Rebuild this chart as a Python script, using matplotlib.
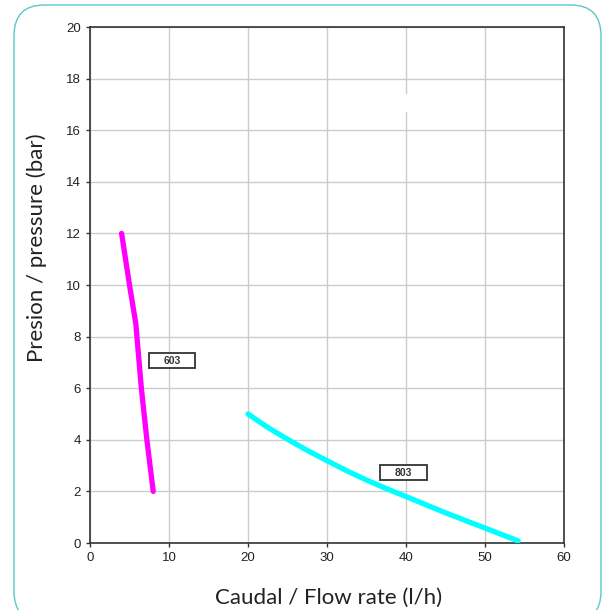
import matplotlib
matplotlib.use("Agg")
import matplotlib.pyplot as plt
from matplotlib.patches import FancyBboxPatch, Rectangle

# pump curves
flow_603 = [4.0, 5.0, 5.8, 6.5, 7.2, 8.0]
pres_603 = [12.0, 10.0, 8.5, 6.0, 4.0, 2.0]

flow_803 = [20.0, 22.5, 25.0, 27.5, 30.0, 32.5, 35.0, 37.5, 40.0, 45.0, 50.0, 54.2]
pres_803 = [5.0, 4.48, 4.02, 3.59, 3.19, 2.80, 2.44, 2.11, 1.80, 1.17, 0.58, 0.08]

labels = ["603", "803"]
label_pos = [(10.4, 7.06), (39.7, 2.73)]

fig = plt.figure(figsize=(6.04, 6.10), dpi=100)

# rounded teal frame round the whole chart
frame = FancyBboxPatch((14 / 604, -12 / 610), 587 / 604, 617 / 610,
                       boxstyle="round,pad=0,rounding_size=0.05",
                       transform=fig.transFigure, facecolor="none",
                       edgecolor="#5cc8c8", linewidth=1.0, mutation_aspect=610 / 604)
fig.patches.append(frame)

ax = fig.add_axes([90 / 604, 67 / 610, 474 / 604, 516 / 610])

ax.plot(flow_603, pres_603, color="#ff00ff", lw=3.8, solid_capstyle="round",
        solid_joinstyle="round", zorder=3)
ax.plot(flow_803, pres_803, color="#00ffff", lw=3.8, solid_capstyle="round",
        solid_joinstyle="round", zorder=3)

# label boxes: ~46x15 px
bw, bh = 5.9, 0.57
for txt, (x, y) in zip(labels, label_pos):
    ax.add_patch(Rectangle((x - bw / 2, y - bh / 2), bw, bh, facecolor="white",
                           edgecolor="#333333", linewidth=1.3, zorder=4))
    ax.text(x, y, txt, ha="center", va="center", fontsize=7.5, fontweight="bold",
            family="Liberation Sans", color="#333333", zorder=5)

ax.set_xlim(0, 60)
ax.set_ylim(0, 20)
ax.set_xticks(range(0, 61, 10))
ax.set_yticks(range(0, 21, 2))
ax.grid(True, color="#cccccc", linewidth=1.0)
ax.set_axisbelow(True)

# small white gap in the x=40 gridline
ax.add_patch(Rectangle((39.6, 16.7), 0.8, 0.7, facecolor="white", edgecolor="none", zorder=1.5))

for s in ax.spines.values():
    s.set_color("#333333")
    s.set_linewidth(1.2)
ax.tick_params(direction="out", length=3, width=1, color="#333333",
               labelsize=9.5, labelcolor="#222222")
for lab in ax.get_xticklabels() + ax.get_yticklabels():
    lab.set_family("Liberation Sans")

fig.text(37 / 604, 1 - 248 / 610, "Presion / pressure (bar)", rotation=90,
         ha="center", va="center", fontsize=16, family="Lato", color="#222222")
fig.text(329 / 604, 1 - 598 / 610, "Caudal / Flow rate (l/h)",
         ha="center", va="center", fontsize=16, family="Lato", color="#222222")

fig.savefig("out.png", dpi=100)
